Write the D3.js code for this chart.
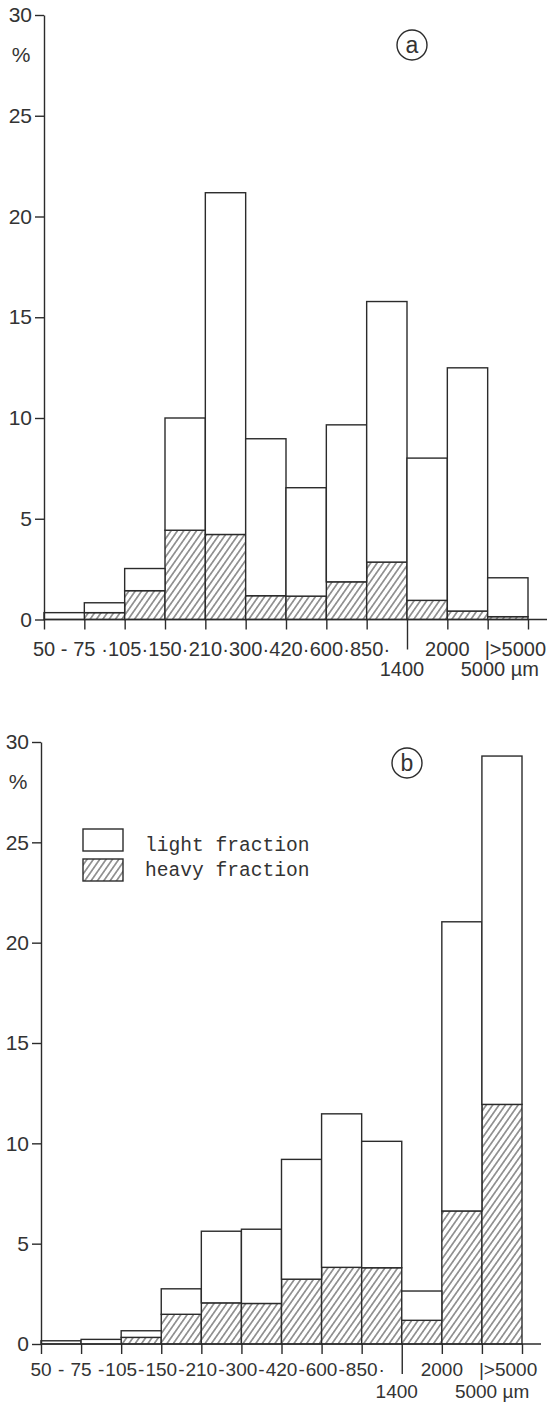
<!DOCTYPE html>
<html><head><meta charset="utf-8">
<script src="https://cdn.jsdelivr.net/npm/d3@7"></script>
<style>body{margin:0;background:#fff} svg{display:block}</style>
</head><body><svg id="c" width="549" height="1402"></svg>
<script>
// ---- data ----
const bins = ["50-75","75-105","105-150","150-210","210-300","300-420","420-600","600-850","850-1400","1400-2000","2000-5000",">5000"];
const edgeLabels = ["50","75","105","150","210","300","420","600","850","1400","2000","5000"];
const lastBinLabel = ">5000";
const unitLabel = "\u00b5m";
const yTicks = [0,5,10,15,20,25,30];
// panel (a)
const heavyA = [0.00,0.34,1.43,4.43,4.22,1.18,1.16,1.87,2.85,0.95,0.42,0.14];
const lightA = [0.34,0.49,1.10,5.57,16.96,7.79,5.38,7.79,12.93,7.06,12.07,1.93];
// panel (b)
const heavyB = [0.00,0.00,0.33,1.48,2.05,2.02,3.23,3.82,3.80,1.18,6.63,11.94];
const lightB = [0.16,0.23,0.33,1.27,3.57,3.70,5.97,7.65,6.30,1.46,14.41,17.36];
const sepA = ["-","·","·","·","·","·","·","·","·"];
const sepB = ["-","-","-","-","-","-","-","-","·"];
const legendLabels = ["light fraction","heavy fraction"];

const INK = "#2b2b2b";
const svg = d3.select("#c");
const defs = svg.append("defs");
const pat = defs.append("pattern").attr("id","hatch")
  .attr("patternUnits","userSpaceOnUse").attr("width",5.2).attr("height",10)
  .attr("patternTransform","rotate(35)");
pat.append("rect").attr("width",5.2).attr("height",10).attr("fill","#fff");
pat.append("line").attr("x1",2.6).attr("x2",2.6).attr("y1",0).attr("y2",10)
  .attr("stroke",INK).attr("stroke-width",0.9);

function panel(cfg){
  const g = svg.append("g");
  const x = d3.scaleLinear().domain([0,bins.length]).range([cfg.x0,cfg.x1]);
  const y = d3.scaleLinear().domain([0,30]).range([cfg.y0,cfg.y1]);
  const rows = bins.map((b,i)=>({bin:b,i,heavy:cfg.heavy[i],light:cfg.light[i]}));
  const stacked = d3.stack().keys(["heavy","light"])(rows);
  const fills = {heavy:"url(#hatch)", light:"#fff"};
  stacked.forEach(layer=>{
    g.append("g").selectAll("rect").data(layer).join("rect")
      .attr("x",d=>x(d.data.i)).attr("width",d=>x(d.data.i+1)-x(d.data.i))
      .attr("y",d=>y(d[1])).attr("height",d=>Math.max(0,y(d[0])-y(d[1])))
      .attr("fill",fills[layer.key]).attr("stroke",INK).attr("stroke-width",1.4);
  });
  const tf = "'Liberation Sans',Arial,sans-serif";
  // y axis
  const ya = g.append("g").attr("transform",`translate(${cfg.x0},0)`)
    .call(d3.axisLeft(y).tickValues(yTicks).tickSize(9).tickSizeOuter(0).tickPadding(3));
  ya.select(".domain").attr("stroke",INK).attr("stroke-width",1.4);
  ya.selectAll(".tick line").attr("stroke",INK).attr("stroke-width",1.4);
  ya.selectAll(".tick text").attr("font-family",tf).attr("font-size",21).attr("fill","#333");
  g.append("text").attr("x",cfg.x0-23).attr("y",cfg.y1+47).attr("text-anchor","middle")
    .attr("font-family",tf).attr("font-size",21).attr("fill","#333").text("%");
  // x axis
  const xa = g.append("g").attr("transform",`translate(0,${cfg.y0})`)
    .call(d3.axisBottom(x).tickValues(d3.range(bins.length+1)).tickSize(10).tickSizeOuter(0).tickFormat(""));
  xa.select(".domain").remove();
  xa.selectAll(".tick line").attr("stroke",INK).attr("stroke-width",1.4)
    .attr("y2",(d)=> d===9 ? 30 : 10);
  g.append("line").attr("x1",x(0)).attr("x2",x(bins.length)+19).attr("y1",cfg.y0).attr("y2",cfg.y0)
    .attr("stroke",INK).attr("stroke-width",1.4);
  const line1 = cfg.y0+cfg.l1, line2 = cfg.y0+cfg.l2;
  const lab = g.append("g").attr("font-family",tf).attr("font-size",cfg.fs).attr("fill","#333");
  edgeLabels.forEach((t,i)=>{
    if(i<=8 || i===10){
      lab.append("text").attr("x",x(i)).attr("y",line1).attr("text-anchor","middle").text(t);
    } else if(i===9){
      lab.append("text").attr("x",x(i)-5).attr("y",line2).attr("text-anchor","middle").text(t);
    } else {
      lab.append("text").attr("x",x(i)-27).attr("y",line2).attr("text-anchor","start")
        .text(t+" "+unitLabel);
    }
  });
  cfg.sep.forEach((s,i)=>{
    lab.append("text").attr("x",x(i+0.5)).attr("y",line1).attr("text-anchor","middle").text(s);
  });
  lab.append("text").attr("x",x(11)-3).attr("y",line1).attr("text-anchor","start").text("|"+lastBinLabel);
  // panel tag
  g.append("circle").attr("cx",cfg.tag[1]).attr("cy",cfg.tag[2]).attr("r",15)
    .attr("fill","none").attr("stroke",INK).attr("stroke-width",1.4);
  g.append("text").attr("x",cfg.tag[1]).attr("y",cfg.tag[2]+8).attr("text-anchor","middle")
    .attr("font-family",tf).attr("font-size",23).attr("fill","#333").text(cfg.tag[0]);
  return {x,y,g};
}

panel({x0:44,x1:528,y0:619.5,y1:15,heavy:heavyA,light:lightA,sep:sepA,tag:["a",412,45],l1:36,l2:56,fs:20});
panel({x0:41,x1:522,y0:1344,y1:742,heavy:heavyB,light:lightB,sep:sepB,tag:["b",407,763],l1:32,l2:53.5,fs:19});

// legend
const leg = svg.append("g");
const legFill = ["#fff","url(#hatch)"];
legendLabels.forEach((t,i)=>{
  leg.append("rect").attr("x",83).attr("y",829+i*30).attr("width",40).attr("height",22)
    .attr("fill",legFill[i]).attr("stroke",INK).attr("stroke-width",1.4);
  leg.append("text").attr("x",145).attr("y",851+i*25)
    .attr("font-family","'Liberation Mono','DejaVu Sans Mono',monospace")
    .attr("font-size",19.6).attr("fill","#333").text(t);
});
</script></body></html>
